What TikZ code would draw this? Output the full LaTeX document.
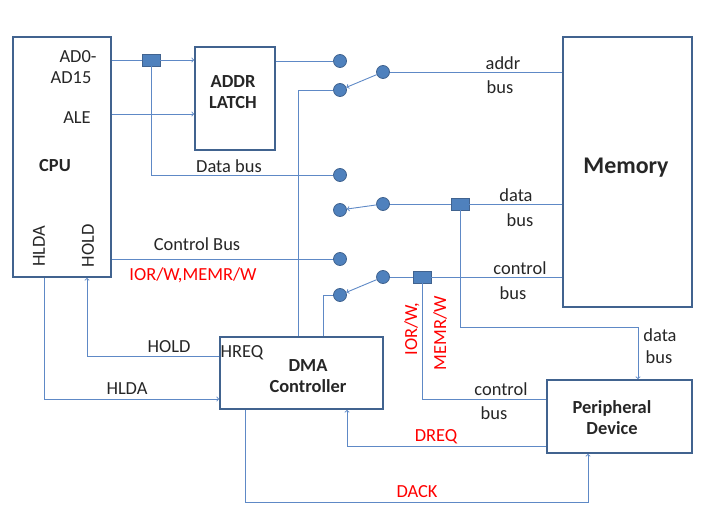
\documentclass[tikz,border=0pt]{standalone}
\usepackage{fontspec}
\setmainfont{Carlito}
\usetikzlibrary{positioning}
\definecolor{wirec}{RGB}{94,137,198}
\definecolor{edgec}{RGB}{65,99,143}
\definecolor{dotc}{RGB}{79,129,189}
\tikzset{
  blk/.style={draw=edgec, line width=1.6pt, inner sep=0pt},
  pin/.style={circle, draw=edgec, fill=dotc, line width=0.8pt, minimum size=13bp, inner sep=0pt},
  tap/.style={rectangle, draw=edgec, fill=dotc, line width=0.8pt, minimum width=18bp, minimum height=12bp, inner sep=0pt},
  wire/.style={draw=wirec, line width=0.9pt},
  lbl/.style={font=\fontsize{18.5}{21}\selectfont, inner sep=0pt, text=black!85},
  redlbl/.style={lbl, text=red},
  bold/.style={lbl, font=\fontsize{18.5}{21}\selectfont\bfseries, align=center},
}
\begin{document}
\begin{tikzpicture}[x=1bp, y=-1bp]
\useasboundingbox (0,0) rectangle (725,516);
% blocks
\node[blk, minimum width=98bp, minimum height=240bp] (cpu) at (62,157) {};
\node[blk, minimum width=80bp, minimum height=103bp] (latch) at (235,98.5) {};
\node[blk, minimum width=129bp, minimum height=270bp] (mem) at (627.5,172) {};
\node[blk, minimum width=163bp, minimum height=72bp] (dma) at (301.5,373) {};
\node[blk, minimum width=145bp, minimum height=73bp] (peri) at (619.5,416.5) {};
% block texts
\node[bold] (cputxt) at (55,166) {CPU};
\node[bold] (latchtxt) at (233,92) {ADDR\\LATCH};
\node[bold, font=\fontsize{24}{26}\selectfont\bfseries] (memtxt) at (626,168) {Memory};
\node[bold] (dmatxt) at (308,376) {DMA\\Controller};
\node[bold] (peritxt) at (612,418) {Peripheral\\Device};
% cpu pins
\node[lbl] (adlo) at (78,57) {AD0-};
\node[lbl] (adhi) at (71,78) {AD15};
\node[lbl] (ale) at (77,118) {ALE};
\node[lbl, rotate=90] (hldapin) at (39,246) {HLDA};
\node[lbl, rotate=90] (holdpin) at (88,246) {HOLD};
\node[lbl] (hreq) at (242,353) {HREQ};
% switch contacts
\node[pin] (pA1) at (340,61) {};
\node[pin] (pA2) at (340,90) {};
\node[pin] (swA) at (383,72) {};
\node[pin] (pD1) at (340,175) {};
\node[pin] (pD2) at (340,210) {};
\node[pin] (swD) at (383,204) {};
\node[pin] (pC1) at (340,259) {};
\node[pin] (pC2) at (340,295) {};
\node[pin] (swC) at (383,277) {};
% bus taps
\node[tap] (tapA) at (151,60) {};
\node[tap] (tapD) at (460,204) {};
\node[tap] (tapC) at (422,277) {};
% helper coordinates
\coordinate (aley) at (0,114);
\coordinate (dbusy) at (0,327);
\coordinate (cbusy) at (0,399);
\coordinate (holdy) at (0,356);
\coordinate (hlday) at (0,399);
\coordinate (dreqy) at (0,446);
\coordinate (dacky) at (0,502);
\coordinate (pdata) at ([xshift=18.5bp]peri.north);
\coordinate (pdack) at ([xshift=-31.5bp]peri.south);
% address path
\draw[wire] (cpu.east |- tapA) -- (tapA);
\draw[wire,->] (tapA) -- (latch.west |- tapA);
\draw[wire,->] (cpu.east |- aley) -- (latch.west |- aley);
\draw[wire] (latch.east |- pA1) -- (pA1);
\draw[wire] (swA) -- (mem.west |- swA);
\draw[wire,->] (swA) -- (pA2);
\draw[wire] (pA2.west) -| ([xshift=-3.5bp]dma.north);
% data path
\draw[wire] (tapA.south) |- (pD1);
\draw[wire] (swD) -- (tapD) -- (mem.west |- tapD);
\draw[wire,->] (swD) -- (pD2);
\draw[wire,->] (tapD.south) |- (pdata |- dbusy) -- (pdata);
% control path
\draw[wire] (cpu.east |- pC1) -- (pC1);
\draw[wire] (swC) -- (tapC) -- (mem.west |- tapC);
\draw[wire,->] (swC) -- (pC2);
\draw[wire] (pC2.west) -| ([xshift=21.5bp]dma.north);
\draw[wire] (tapC.south) |- (peri.west |- cbusy);
% handshake lines
\draw[wire,->] (dma.west |- holdy) -| ([xshift=25bp]cpu.south);
\draw[wire,->] ([xshift=-18bp]cpu.south) |- (dma.west |- hlday);
\draw[wire,->] (peri.west |- dreqy) -| ([xshift=45.5bp]dma.south);
\draw[wire,->] ([xshift=-56.5bp]dma.south) |- (pdack |- dacky) -- (pdack);
% bus labels
\node[lbl] (dbtxt) at (229,166) {Data bus};
\node[lbl] (cbtxt) at (197,244) {Control Bus};
\node[redlbl] (rwtxt) at (193,275) {IOR/W,MEMR/W};
\node[lbl] (addrtxt) at (503,63) {addr};
\node[lbl] (addrbus) at (500,87) {bus};
\node[lbl] (datatxt) at (516,195) {data};
\node[lbl] (databus) at (520,220) {bus};
\node[lbl] (ctltxt) at (520,268) {control};
\node[lbl] (ctlbus) at (513,293) {bus};
\node[lbl] (ctl2txt) at (501,389) {control};
\node[lbl] (ctl2bus) at (494,413) {bus};
\node[redlbl, rotate=90] (iortxt) at (412,329) {IOR/W,};
\node[redlbl, rotate=90] (memrtxt) at (440,333) {MEMR/W};
\node[lbl] (data2txt) at (660,335) {data};
\node[lbl] (data2bus) at (659,357) {bus};
\node[lbl] (holdtxt) at (169,347) {HOLD};
\node[lbl] (hldatxt) at (127,389) {HLDA};
\node[redlbl] (dreqtxt) at (436,437) {DREQ};
\node[redlbl] (dacktxt) at (417,492) {DACK};
\end{tikzpicture}
\end{document}
